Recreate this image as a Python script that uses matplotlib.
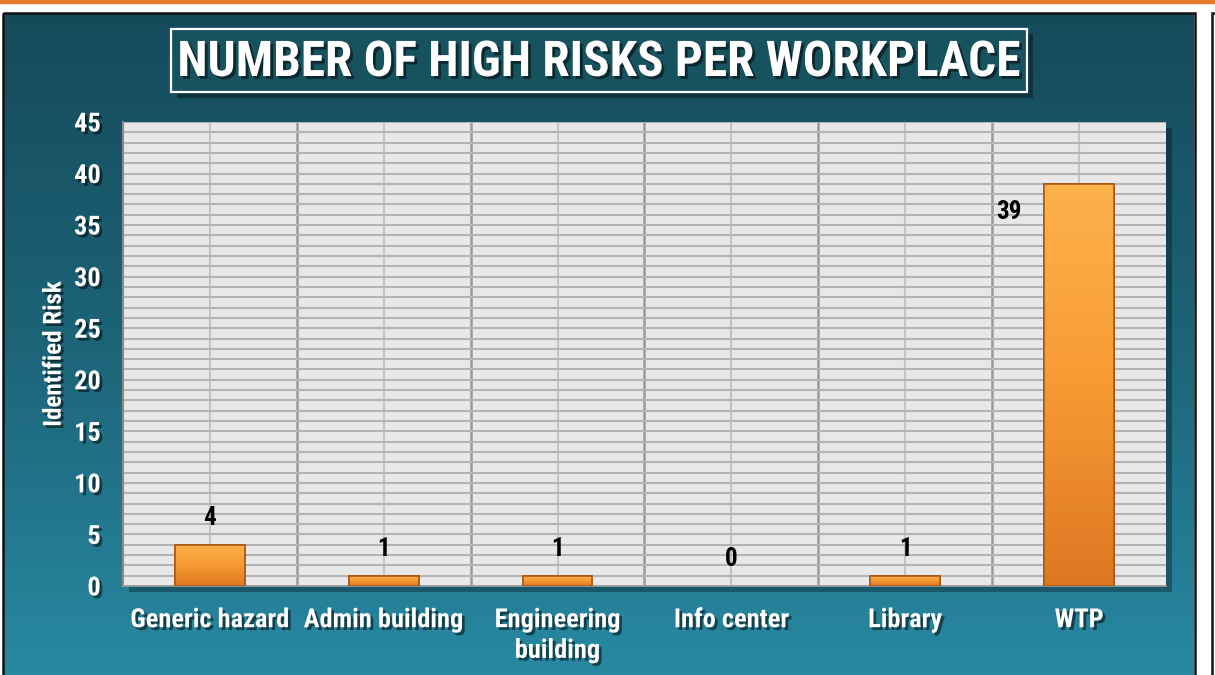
import numpy as np
import matplotlib
matplotlib.use("Agg")
from matplotlib import pyplot as plt
from matplotlib import font_manager
from matplotlib.patches import Rectangle
from matplotlib.colors import LinearSegmentedColormap
import matplotlib.patheffects as pe

categories = ["Generic hazard", "Admin building", "Engineering\nbuilding",
              "Info center", "Library", "WTP"]
high_risks = [4, 1, 1, 0, 1, 39]
y_ticks = list(range(0, 46, 5))
title = "NUMBER OF HIGH RISKS PER WORKPLACE"
y_label = "Identified Risk"


def pick_font(names):
    for n in names:
        try:
            font_manager.findfont(n, fallback_to_default=False)
            return n
        except Exception:
            pass
    return "DejaVu Sans"


font = pick_font(["Liberation Sans Narrow", "Roboto Condensed", "Open Sans Condensed",
                  "Liberation Sans", "Roboto"])
plt.rcParams["font.family"] = [font, "DejaVu Sans"]

W, H = 1215, 675
fig = plt.figure(figsize=(W / 100, H / 100), dpi=100)
fig.patch.set_facecolor("white")

# background layer in pixel coordinates
bg = fig.add_axes([0, 0, 1, 1], zorder=0)
bg.set_xlim(0, W)
bg.set_ylim(H, 0)
bg.axis("off")

bg.add_patch(Rectangle((0, 0), W, 2.5, color="#e8792a"))
panel_cmap = LinearSegmentedColormap.from_list("panel", ["#154a5a", "#1d6478", "#2889a3"])
grad = np.linspace(0, 1, 256).reshape(-1, 1)
bg.imshow(grad, cmap=panel_cmap, extent=[4, 1194, H, 13], aspect="auto", zorder=1)
bg.add_patch(Rectangle((3, 12.5), 1192, H, fill=False, ec="#111111", lw=1.8, zorder=2))
bg.add_patch(Rectangle((1212, 12.5), 10, H, fc="white", ec="#111111", lw=1.8, zorder=2))

# title box
shadow = [pe.SimplePatchShadow(offset=(4, -4), shadow_rgbFace="black", alpha=0.35), pe.Normal()]
bg.add_patch(Rectangle((171, 28.5), 856, 63.5, fc="#17525f", ec="white", lw=1.6,
                       zorder=3, path_effects=shadow))
txt_shadow = [pe.withSimplePatchShadow(offset=(2, -2), shadow_rgbFace="black", alpha=0.5)]
bg.text(599, 63, title, color="white", fontsize=35.5, fontweight="bold",
        ha="center", va="center", zorder=4, path_effects=txt_shadow)

# plot area
ax = fig.add_axes([123 / W, 1 - 586 / H, 1043 / W, 464 / H], zorder=2)
ax.set_facecolor("#e8e8e8")
x = np.arange(len(categories))

ax.set_yticks(y_ticks)
ax.set_yticks(np.arange(0, 46, 1), minor=True)
ax.grid(True, axis="y", which="both", color="#b4b4b4", lw=1.5, zorder=0)
for i in x:
    ax.axvline(i, color="#c4c4c4", lw=1.5, zorder=0.5)
for i in x[1:]:
    ax.axvline(i - 0.5, color="#9a9a9a", lw=1.8, zorder=0.6)

bars = ax.bar(x, high_risks, width=0.4, color="#f0892a", edgecolor="#a85a18",
              lw=1.2, zorder=3)
bar_cmap = LinearSegmentedColormap.from_list("bar", ["#fdb24c", "#f89a33", "#dd7823"])
for b in bars:
    if b.get_height() <= 0:
        b.set_linewidth(0)
        continue
    x0, w, h = b.get_x(), b.get_width(), b.get_height()
    im = ax.imshow(grad, cmap=bar_cmap, extent=[x0, x0 + w, 0, h], origin="upper",
                   aspect="auto", zorder=3.5)
    im.set_clip_path(b)
    ax.add_patch(Rectangle((x0, 0), w, h, fill=False, ec="#a85a18", lw=1.2, zorder=3.6))
ax.set_xlim(-0.5, len(categories) - 0.5)
ax.set_ylim(0, 45)

for i, v in enumerate(high_risks):
    if i == len(high_risks) - 1:
        off = (-70, -28)
    else:
        off = (0, 27)
    ax.annotate(str(v), (x[i], v), xytext=off, textcoords="offset pixels",
                ha="center", va="center", fontsize=18, fontweight="bold",
                color="black", zorder=5)

ax.set_xticks(x)
ax.set_xticklabels(categories, color="white", fontsize=19, fontweight="bold",
                   linespacing=1.35, va="top")
ax.set_yticklabels([str(t) for t in y_ticks], color="white", fontsize=19,
                   fontweight="bold")
for lab in ax.get_xticklabels() + ax.get_yticklabels():
    lab.set_path_effects(txt_shadow)
ax.tick_params(axis="both", which="both", length=0)
ax.tick_params(axis="x", pad=16)
ax.tick_params(axis="y", pad=16)
ax.set_ylabel(y_label, color="white", fontsize=18, fontweight="bold", labelpad=6)
ax.yaxis.label.set_path_effects(txt_shadow)

for s in ["top", "right"]:
    ax.spines[s].set_visible(False)
ax.spines["left"].set_color("#8a8a8a")
ax.spines["left"].set_linewidth(1.5)
ax.spines["bottom"].set_color("#a0a0a0")
ax.spines["bottom"].set_linewidth(1.2)
ax.patch.set_path_effects([pe.SimplePatchShadow(offset=(4, -4), shadow_rgbFace="black",
                                                alpha=0.3), pe.Normal()])

fig.savefig("out.png", dpi=100)
